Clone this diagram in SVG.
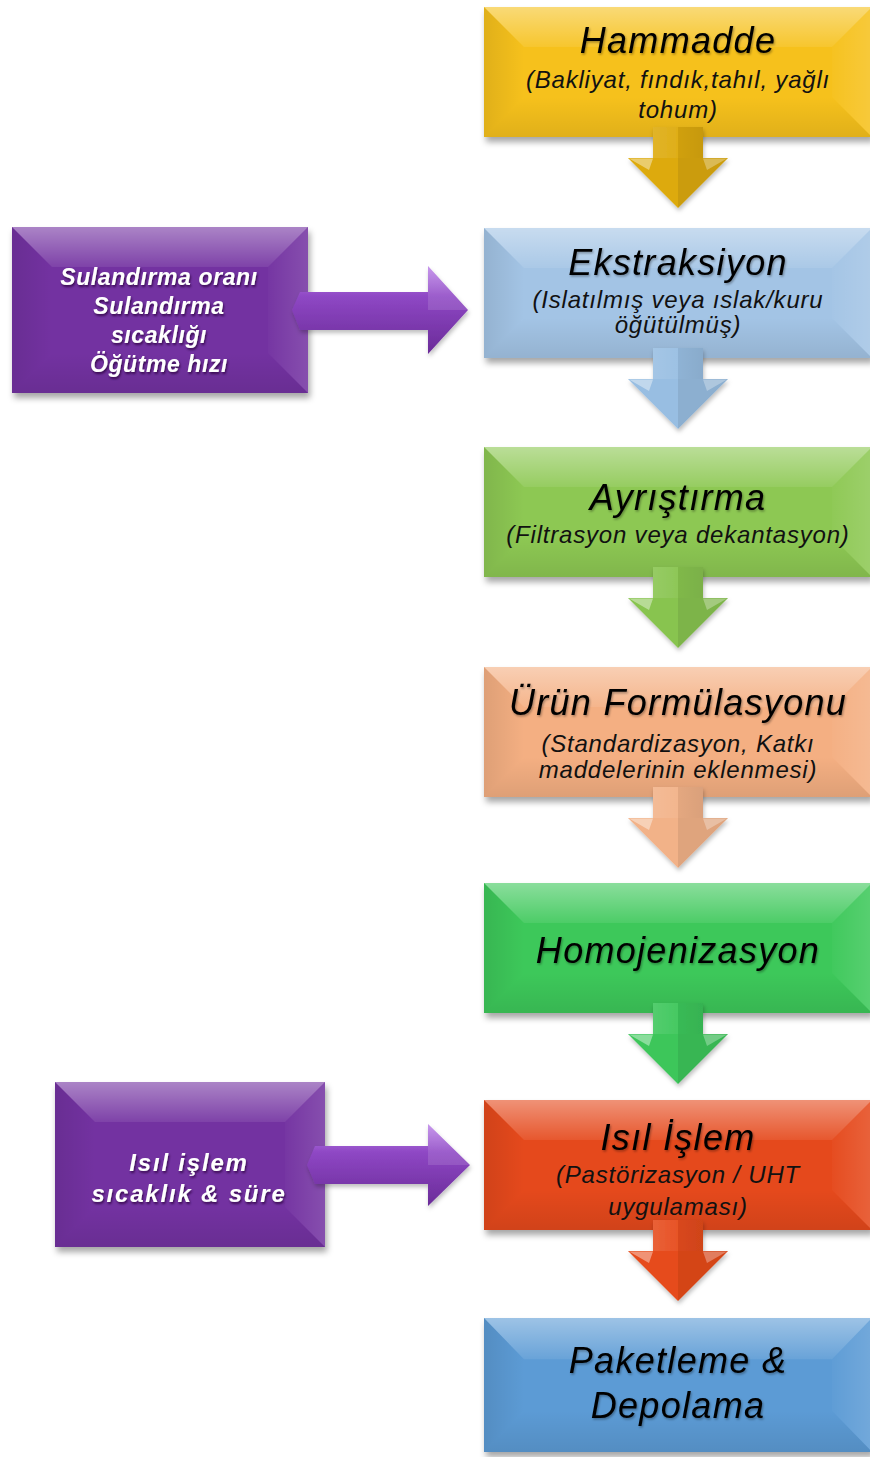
<svg xmlns="http://www.w3.org/2000/svg" xmlns:xlink="http://www.w3.org/1999/xlink" width="870" height="1457" viewBox="0 0 870 1457">
<style>
.t{font-family:"Liberation Sans",Arial,sans-serif;font-style:italic;font-size:36px;letter-spacing:1.3px;fill:#000;text-anchor:middle}
.s{font-family:"Liberation Sans",Arial,sans-serif;font-style:italic;font-size:24px;letter-spacing:0.8px;fill:#111;text-anchor:middle}
.p{font-family:"Liberation Sans",Arial,sans-serif;font-style:italic;font-weight:bold;font-size:23px;letter-spacing:0.6px;fill:#fff;text-anchor:middle}
.p2{font-family:"Liberation Sans",Arial,sans-serif;font-style:italic;font-weight:bold;font-size:24px;letter-spacing:1.8px;fill:#fff;text-anchor:middle}
</style>
<defs>
<filter id="sh" x="-10%" y="-10%" width="120%" height="130%"><feDropShadow dx="2" dy="5" stdDeviation="3" flood-color="#000" flood-opacity="0.35"/></filter>
<filter id="ash" x="-20%" y="-20%" width="140%" height="140%"><feDropShadow dx="1" dy="3" stdDeviation="2" flood-color="#000" flood-opacity="0.25"/></filter>
<filter id="tsh" x="-10%" y="-20%" width="120%" height="150%"><feDropShadow dx="1" dy="1.5" stdDeviation="1" flood-color="#000" flood-opacity="0.35"/></filter>
<filter id="tsw" x="-10%" y="-20%" width="120%" height="150%"><feDropShadow dx="1" dy="2" stdDeviation="1.2" flood-color="#2a0040" flood-opacity="0.8"/></filter>
<linearGradient id="gT" x1="0" y1="0" x2="0" y2="1"><stop offset="0" stop-color="#fff" stop-opacity=".4"/><stop offset="1" stop-color="#fff" stop-opacity=".08"/></linearGradient>
<linearGradient id="gL" x1="0" y1="0" x2="1" y2="0"><stop offset="0" stop-color="#000" stop-opacity=".09"/><stop offset="1" stop-color="#000" stop-opacity="0"/></linearGradient>
<linearGradient id="gR" x1="1" y1="0" x2="0" y2="0"><stop offset="0" stop-color="#fff" stop-opacity=".14"/><stop offset="1" stop-color="#fff" stop-opacity=".02"/></linearGradient>
<linearGradient id="gB" x1="0" y1="1" x2="0" y2="0"><stop offset="0" stop-color="#000" stop-opacity=".09"/><stop offset="1" stop-color="#000" stop-opacity="0"/></linearGradient>
<linearGradient id="gP" x1="0" y1="0" x2="0" y2="1"><stop offset="0" stop-color="#C08AEA"/><stop offset=".35" stop-color="#8E47C4"/><stop offset="1" stop-color="#6A2B98"/></linearGradient>
<linearGradient id="gS" x1="0" y1="0" x2="1" y2="0"><stop offset="0" stop-color="#fff" stop-opacity=".12"/><stop offset=".5" stop-color="#fff" stop-opacity=".05"/><stop offset=".5" stop-color="#000" stop-opacity=".06"/><stop offset="1" stop-color="#000" stop-opacity=".1"/></linearGradient>
<g id="bevM">
<path d="M0,0H388L348,40H40Z" fill="url(#gT)"/>
<path d="M0,0L40,40V90L0,130Z" fill="url(#gL)"/>
<path d="M388,0V130L348,90V40Z" fill="url(#gR)"/>
<path d="M0,130L40,90H348L388,130Z" fill="url(#gB)"/>
</g>
<g id="darr">
<path d="M-25,0H25V31H50L0,81L-50,31H-25Z" fill="currentColor"/>
<path d="M-25,0H25V31H-25Z" fill="url(#gS)"/>
<path d="M0,31H50L0,81Z" fill="#000" fill-opacity=".08"/>
<path d="M-49,31.5H-25L-29,43Z" fill="#fff" fill-opacity=".4"/>
<path d="M49,31.5H25L29,43Z" fill="#fff" fill-opacity=".3"/>
</g>
</defs>
<rect width="870" height="1457" fill="#fff"/>

<g id="n-hammadde">
<rect x="484" y="7" width="388" height="130" fill="#F6C11A" filter="url(#sh)"/>
<use xlink:href="#bevM" href="#bevM" x="484" y="7"/>
<text class="t" x="678" y="53" filter="url(#tsh)">Hammadde</text>
<text class="s" x="678" y="88">(Bakliyat, fındık,tahıl, yağlı</text>
<text class="s" x="678" y="118">tohum)</text>
</g>

<g id="n-ekstraksiyon">
<rect x="484" y="228" width="388" height="130" fill="#A3C4E5" filter="url(#sh)"/>
<use xlink:href="#bevM" href="#bevM" x="484" y="228"/>
<text class="t" x="678" y="275" filter="url(#tsh)">Ekstraksiyon</text>
<text class="s" x="678" y="308">(Islatılmış veya ıslak/kuru</text>
<text class="s" x="678" y="333">öğütülmüş)</text>
</g>

<g id="n-ayristirma">
<rect x="484" y="447" width="388" height="130" fill="#8DC852" filter="url(#sh)"/>
<use xlink:href="#bevM" href="#bevM" x="484" y="447"/>
<text class="t" x="678" y="510" filter="url(#tsh)">Ayrıştırma</text>
<text class="s" x="678" y="543">(Filtrasyon veya dekantasyon)</text>
</g>

<g id="n-urun">
<rect x="484" y="667" width="388" height="130" fill="#F4AF82" filter="url(#sh)"/>
<use xlink:href="#bevM" href="#bevM" x="484" y="667"/>
<text class="t" x="678" y="715" filter="url(#tsh)">Ürün Formülasyonu</text>
<text class="s" x="678" y="752">(Standardizasyon, Katkı</text>
<text class="s" x="678" y="778">maddelerinin eklenmesi)</text>
</g>

<g id="n-homojenizasyon">
<rect x="484" y="883" width="388" height="130" fill="#3CC85A" filter="url(#sh)"/>
<use xlink:href="#bevM" href="#bevM" x="484" y="883"/>
<text class="t" x="678" y="963" filter="url(#tsh)">Homojenizasyon</text>
</g>

<g id="n-isil">
<rect x="484" y="1100" width="388" height="130" fill="#E5481C" filter="url(#sh)"/>
<use xlink:href="#bevM" href="#bevM" x="484" y="1100"/>
<text class="t" x="678" y="1150" filter="url(#tsh)">Isıl İşlem</text>
<text class="s" x="678" y="1183">(Pastörizasyon / UHT</text>
<text class="s" x="678" y="1215">uygulaması)</text>
</g>

<g id="n-paketleme">
<rect x="484" y="1318" width="388" height="134" fill="#5B9BD5" filter="url(#sh)"/>
<use xlink:href="#bevM" href="#bevM" transform="translate(484,1318) scale(1,1.03)"/>
<text class="t" x="678" y="1373" filter="url(#tsh)">Paketleme &amp;</text>
<text class="t" x="678" y="1418" filter="url(#tsh)">Depolama</text>
</g>

<g id="n-sulandirma">
<rect x="12" y="227" width="296" height="166" fill="#7331A1" filter="url(#sh)"/>
<path d="M12,227H308L268,267H52Z" fill="url(#gT)"/>
<path d="M12,227L52,267V353L12,393Z" fill="url(#gL)"/>
<path d="M308,227V393L268,353V267Z" fill="url(#gR)"/>
<path d="M12,393L52,353H268L308,393Z" fill="url(#gB)"/>
<g filter="url(#tsw)">
<text class="p" x="159" y="285">Sulandırma oranı</text>
<text class="p" x="159" y="314">Sulandırma</text>
<text class="p" x="159" y="343">sıcaklığı</text>
<text class="p" x="159" y="372">Öğütme hızı</text>
</g>
</g>

<g id="n-isilparam">
<rect x="55" y="1082" width="270" height="165" fill="#7331A1" filter="url(#sh)"/>
<path d="M55,1082H325L285,1122H95Z" fill="url(#gT)"/>
<path d="M55,1082L95,1122V1207L55,1247Z" fill="url(#gL)"/>
<path d="M325,1082V1247L285,1207V1122Z" fill="url(#gR)"/>
<path d="M55,1247L95,1207H285L325,1247Z" fill="url(#gB)"/>
<g filter="url(#tsw)">
<text class="p2" x="189" y="1171">Isıl işlem</text>
<text class="p2" x="189" y="1202">sıcaklık &amp; süre</text>
</g>
</g>

<g id="connectors">
<use xlink:href="#darr" href="#darr" x="678" y="127" color="#DDAA0C" filter="url(#ash)"/>
<use xlink:href="#darr" href="#darr" x="678" y="348" color="#98BEE2" filter="url(#ash)"/>
<use xlink:href="#darr" href="#darr" x="678" y="567" color="#88C44F" filter="url(#ash)"/>
<use xlink:href="#darr" href="#darr" x="678" y="787" color="#F2B288" filter="url(#ash)"/>
<use xlink:href="#darr" href="#darr" x="678" y="1003" color="#3CC65A" filter="url(#ash)"/>
<use xlink:href="#darr" href="#darr" x="678" y="1220" color="#E64B1C" filter="url(#ash)"/>
<path d="M292,310L300,292H428V266L468,310L428,354V330H300Z" fill="url(#gP)" filter="url(#ash)"/>
<path d="M428,266L468,310H428Z" fill="#fff" fill-opacity=".12"/>
<path d="M307,1165L315,1146H428V1124L470,1165L428,1206V1184H315Z" fill="url(#gP)" filter="url(#ash)"/>
<path d="M428,1124L470,1165H428Z" fill="#fff" fill-opacity=".12"/>
</g>
</svg>
